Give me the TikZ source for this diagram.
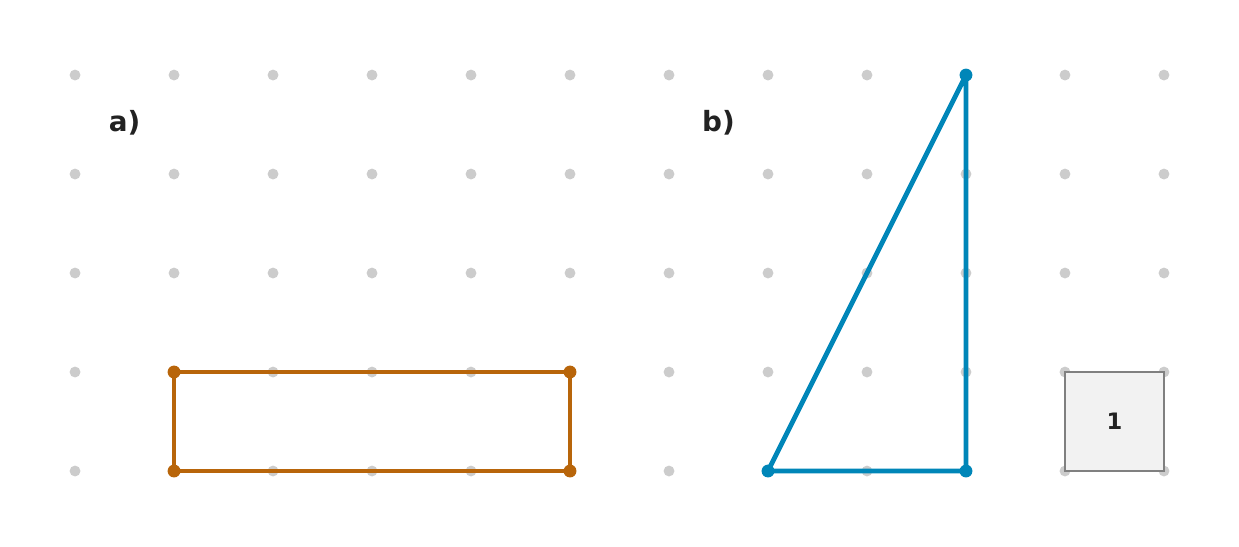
\documentclass[tikz,border=0pt]{standalone}
\usepackage{fontspec}
\setmainfont{DejaVu Sans}
\usetikzlibrary{positioning}
\definecolor{dotgray}{HTML}{CCCCCC}
\definecolor{rectorange}{HTML}{B8650A}
\definecolor{triblue}{HTML}{0086B8}
\definecolor{labelgray}{HTML}{222222}
\begin{document}
\begin{tikzpicture}[
    griddot/.style={circle, fill=dotgray, inner sep=0pt, minimum size=0.11cm},
    corner/.style={circle, fill=#1, inner sep=0pt, minimum size=0.13cm},
    edge/.style={line width=1.4pt, line join=round},
    tag/.style={text=labelgray, font=\fontsize{8}{9}\selectfont\bfseries},
    unitbox/.style={draw=gray, fill=gray!10, line width=0.5pt, minimum size=1cm, inner sep=0pt, text=labelgray, font=\fontsize{6.5}{8}\selectfont\bfseries}
]
\useasboundingbox (-0.758,-0.758) rectangle (11.758,4.758);

% dot grid
\foreach \i in {0,...,11}
  \foreach \j in {0,...,4}
    \node[griddot] (g\i-\j) at (\i,\j) {};

% a) rectangle
\node[tag] (la) at (0.5,3.515) {a)};
\draw[edge, draw=rectorange] (1,0) rectangle (5,1);
\foreach \p in {(1,0),(5,0),(1,1),(5,1)}
  \node[corner=rectorange] at \p {};

% b) triangle
\node[tag] (lb) at (6.5,3.515) {b)};
\node[corner=triblue] (A) at (7,0) {};
\node[corner=triblue] (B) at (9,0) {};
\node[corner=triblue] (C) at (9,4) {};
\draw[edge, draw=triblue] (A.center) -- (B.center) -- (C.center) -- cycle;

% unit square
\node[unitbox] (unit) at (10.5,0.5) {1};
\end{tikzpicture}
\end{document}
